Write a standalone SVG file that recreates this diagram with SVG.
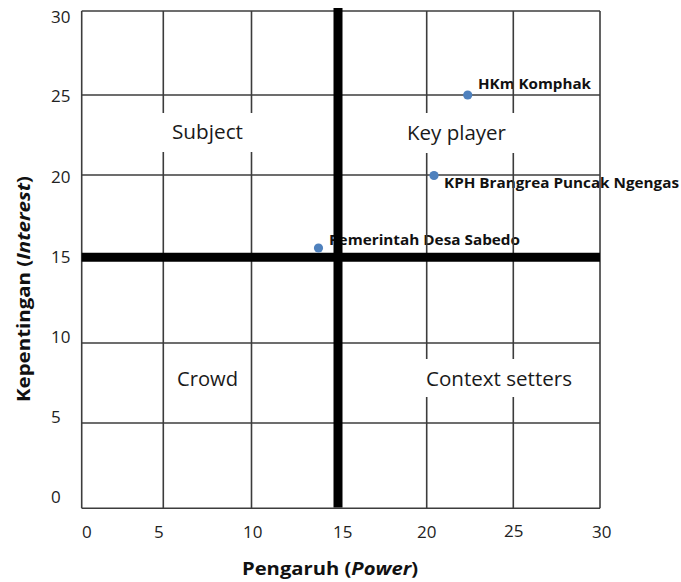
<svg xmlns="http://www.w3.org/2000/svg" width="681" height="582" viewBox="0 0 681 582">
<style>
.grid{stroke:#3c3c3c;stroke-width:1.6;fill:none}
.thick{stroke:#000;stroke-width:9;fill:none}
.tick{font-family:"Open Sans","Liberation Sans",sans-serif;font-size:17px;fill:#222}
.quad{font-family:"Open Sans","Liberation Sans",sans-serif;font-size:20px;fill:#1a1a1a}
.plab{font-family:"Open Sans","Liberation Sans",sans-serif;font-size:14px;font-weight:bold;fill:#111}
.axis{font-family:"Open Sans","Liberation Sans",sans-serif;font-size:18px;font-weight:bold;fill:#111}
.dot{fill:#4f81bd}
.mask{fill:#fff}
</style>
<rect width="681" height="582" fill="#fff"/>
<g id="point-labels">
<text class="plab" x="478" y="89" textLength="113" lengthAdjust="spacingAndGlyphs">HKm Komphak</text>
<text class="plab" x="444" y="188" textLength="235" lengthAdjust="spacingAndGlyphs">KPH Brangrea Puncak Ngengas</text>
<text class="plab" x="329" y="245" textLength="191" lengthAdjust="spacingAndGlyphs">Pemerintah Desa Sabedo</text>
</g>
<g id="grid">
<line class="grid" x1="81.7" y1="11" x2="81.7" y2="508.3"/>
<line class="grid" x1="163.3" y1="11" x2="163.3" y2="508.3"/>
<line class="grid" x1="251.5" y1="11" x2="251.5" y2="508.3"/>
<line class="grid" x1="426.7" y1="11" x2="426.7" y2="508.3"/>
<line class="grid" x1="513.3" y1="11" x2="513.3" y2="508.3"/>
<line class="grid" x1="600" y1="11" x2="600" y2="508.3"/>
<line class="grid" x1="81.7" y1="11" x2="600" y2="11"/>
<line class="grid" x1="81.7" y1="95" x2="600" y2="95"/>
<line class="grid" x1="81.7" y1="175" x2="600" y2="175"/>
<line class="grid" x1="81.7" y1="343" x2="600" y2="343"/>
<line class="grid" x1="81.7" y1="423" x2="600" y2="423"/>
<line class="grid" x1="81.7" y1="508.3" x2="600" y2="508.3"/>
</g>
<g id="quadrant-labels">
<rect class="mask" x="158" y="113" width="100" height="39"/>
<rect class="mask" x="400" y="113" width="120" height="40"/>
<rect class="mask" x="420" y="359" width="160" height="38"/>
<text class="quad" x="172" y="139" textLength="71" lengthAdjust="spacingAndGlyphs">Subject</text>
<text class="quad" x="407" y="140" textLength="99" lengthAdjust="spacingAndGlyphs">Key player</text>
<text class="quad" x="177" y="386" textLength="61" lengthAdjust="spacingAndGlyphs">Crowd</text>
<text class="quad" x="426" y="386" textLength="146" lengthAdjust="spacingAndGlyphs">Context setters</text>
</g>
<g id="dividers">
<line class="thick" x1="338" y1="8" x2="338" y2="507.5"/>
<line class="thick" x1="81.7" y1="257.3" x2="600" y2="257.3"/>
</g>
<g id="points">
<circle class="dot" cx="467.7" cy="95" r="4.6"/>
<circle class="dot" cx="434" cy="175.5" r="4.6"/>
<circle class="dot" cx="318.5" cy="248" r="4.6"/>
</g>
<g id="y-ticks">
<text class="tick" x="51" y="23">30</text>
<text class="tick" x="51" y="102">25</text>
<text class="tick" x="51" y="183">20</text>
<text class="tick" x="51" y="263">15</text>
<text class="tick" x="51" y="343">10</text>
<text class="tick" x="51" y="423">5</text>
<text class="tick" x="51" y="503">0</text>
</g>
<g id="x-ticks">
<text class="tick" x="82" y="537.5">0</text>
<text class="tick" x="154" y="537.5">5</text>
<text class="tick" x="243" y="537.5">10</text>
<text class="tick" x="333" y="537.5">15</text>
<text class="tick" x="417" y="537.5">20</text>
<text class="tick" x="504" y="537">25</text>
<text class="tick" x="592" y="537.5">30</text>
</g>
<g id="axis-titles">
<text class="axis" x="242" y="575" textLength="176" lengthAdjust="spacingAndGlyphs">Pengaruh (<tspan font-style="italic">Power</tspan>)</text>
<text class="axis" transform="translate(30,289) rotate(-90)" text-anchor="middle" textLength="226" lengthAdjust="spacingAndGlyphs">Kepentingan (<tspan font-style="italic">Interest</tspan>)</text>
</g>
</svg>
